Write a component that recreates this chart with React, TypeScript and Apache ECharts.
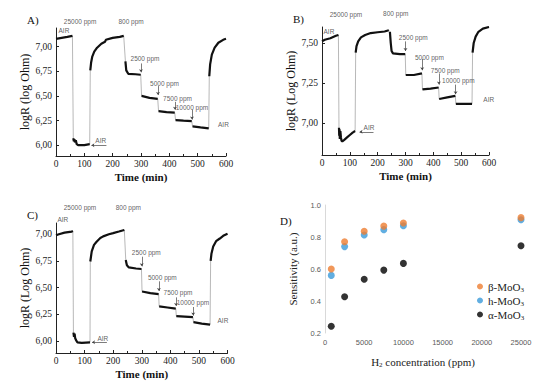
import React, { useEffect, useRef } from "react";
import * as echarts from "echarts";

// ---------- Panel A (logR vs time) ----------
const A_air1 = [[0, 7.08], [20, 7.09], [40, 7.1], [58, 7.11]];
const A_25000 = [[61, 6.07], [63, 6.04], [65, 6.06], [67, 6.03], [70, 6.05], [73, 6.01], [78, 6.0], [100, 6.0], [119, 6.01]];
const A_air2 = [[121, 6.76], [124, 6.84], [128, 6.9], [135, 6.95], [145, 6.99], [160, 7.03], [173, 7.05], [176, 7.07], [200, 7.09], [225, 7.1], [239, 7.11]];
const A_800 = [[245, 6.85], [248, 6.76], [255, 6.725], [280, 6.72], [299, 6.715]];
const A_2500 = [[302, 6.5], [330, 6.48], [359, 6.47]];
const A_5000 = [[362, 6.345], [390, 6.335], [419, 6.33]];
const A_7500 = [[422, 6.255], [450, 6.25], [479, 6.245]];
const A_10000 = [[482, 6.19], [510, 6.18], [539, 6.17]];
const A_air3 = [[541, 6.7], [544, 6.82], [550, 6.92], [560, 6.99], [573, 7.04], [590, 7.07], [600, 7.08]];

// ---------- Panel B ----------
const B_air1 = [[0, 7.51], [10, 7.52], [30, 7.53], [50, 7.545], [59, 7.55]];
const B_25000 = [[61, 6.97], [62, 6.92], [63, 6.96], [64, 6.9], [66, 6.95], [68, 6.91], [70, 6.89], [73, 6.885], [80, 6.895], [90, 6.91], [100, 6.925], [110, 6.94], [119, 6.95]];
const B_air2 = [[121, 7.44], [124, 7.48], [130, 7.51], [140, 7.535], [155, 7.55], [175, 7.562], [200, 7.567], [225, 7.572], [240, 7.58]];
const B_800 = [[244, 7.57], [247, 7.5], [250, 7.45], [255, 7.435], [280, 7.43], [299, 7.43]];
const B_2500 = [[301, 7.3], [330, 7.3], [359, 7.31]];
const B_5000 = [[361, 7.21], [390, 7.215], [419, 7.222]];
const B_7500 = [[421, 7.15], [450, 7.16], [479, 7.17]];
const B_10000 = [[481, 7.12], [510, 7.12], [539, 7.12]];
const B_air3 = [[541, 7.44], [545, 7.5], [552, 7.54], [562, 7.57], [578, 7.59], [600, 7.6]];

// ---------- Panel C ----------
const C_air1 = [[0, 6.99], [10, 7.0], [30, 7.015], [55, 7.025], [59, 7.03]];
const C_25000 = [[61, 6.08], [63, 6.04], [65, 6.07], [67, 6.03], [70, 6.01], [75, 5.99], [90, 5.985], [119, 5.99]];
const C_air2 = [[120, 6.745], [125, 6.84], [133, 6.9], [142, 6.93], [155, 6.965], [165, 6.98], [185, 7.0], [200, 7.01], [220, 7.025], [239, 7.04]];
const C_800 = [[244, 6.76], [248, 6.71], [255, 6.69], [280, 6.68], [299, 6.675]];
const C_2500 = [[301, 6.465], [330, 6.45], [359, 6.44]];
const C_5000 = [[361, 6.325], [390, 6.315], [419, 6.305]];
const C_7500 = [[421, 6.235], [450, 6.23], [479, 6.225]];
const C_10000 = [[481, 6.178], [510, 6.165], [539, 6.155]];
const C_air3 = [[541, 6.75], [544, 6.82], [550, 6.885], [560, 6.935], [573, 6.96], [585, 6.985], [600, 7.005]];

// ---------- Panel D (sensitivity) ----------
const concentrations = [800, 2500, 5000, 7500, 10000, 25000];
const betaMoO3 = [0.6, 0.77, 0.836, 0.868, 0.888, 0.921];
const hMoO3 = [0.56, 0.74, 0.813, 0.846, 0.87, 0.908];
const alphaMoO3 = [0.242, 0.427, 0.536, 0.593, 0.635, 0.745];

const yTicksAC = [6.0, 6.25, 6.5, 6.75, 7.0];
const yTicksB = [7.0, 7.25, 7.5];

// annotation texts (data coordinates)
const annA = [
  { text: "25000 ppm", t: 85, v: 7.26 }, { text: "800 ppm", t: 265, v: 7.26 },
  { text: "2500 ppm", t: 314, v: 6.885 }, { text: "5000 ppm", t: 383, v: 6.63 },
  { text: "7500 ppm", t: 429, v: 6.478 }, { text: "10000 ppm", t: 480, v: 6.387 },
  { text: "AIR", t: 28, v: 7.16 }, { text: "AIR", t: 158, v: 6.045 }, { text: "AIR", t: 591, v: 6.21 },
];
const arrA = [[60, 7.22, 7.13], [240, 7.22, 7.13], [300, 6.83, 6.74], [360, 6.6, 6.51], [420, 6.44, 6.36], [480, 6.36, 6.26]];
const airA = [[178, 125, 6.0], [605, 555, 6.16]];

const annB = [
  { text: "25000 ppm", t: 86, v: 7.677 }, { text: "800 ppm", t: 265, v: 7.683 },
  { text: "2500 ppm", t: 328, v: 7.533 }, { text: "5000 ppm", t: 386, v: 7.408 },
  { text: "7500 ppm", t: 443, v: 7.327 }, { text: "10000 ppm", t: 490, v: 7.264 },
  { text: "AIR", t: 25, v: 7.57 }, { text: "AIR", t: 169, v: 6.97 }, { text: "AIR", t: 599, v: 7.15 },
];
const arrB = [[60, 7.645, 7.56], [240, 7.645, 7.59], [300, 7.51, 7.45], [360, 7.4, 7.33], [420, 7.31, 7.24], [480, 7.24, 7.18]];
const airB = [[185, 135, 6.945], [611, 558, 7.12]];

const annC = [
  { text: "25000 ppm", t: 84, v: 7.254 }, { text: "800 ppm", t: 253, v: 7.254 },
  { text: "2500 ppm", t: 316, v: 6.826 }, { text: "5000 ppm", t: 372, v: 6.593 },
  { text: "7500 ppm", t: 427, v: 6.453 }, { text: "10000 ppm", t: 479, v: 6.36 },
  { text: "AIR", t: 24, v: 7.142 }, { text: "AIR", t: 164, v: 6.03 }, { text: "AIR", t: 584, v: 6.19 },
];
const arrC = [[60, 7.133, 7.05], [240, 7.133, 7.06], [300, 6.79, 6.7], [360, 6.56, 6.47], [420, 6.41, 6.33], [480, 6.32, 6.24]];
const airC = [[178, 126, 5.99], [601, 545, 6.146]];

const SERIF = '"Liberation Serif", "Times New Roman", serif';
const SANS = '"Liberation Sans", Arial, sans-serif';

function timePanel(idx: number, segs: number[][][], yMin: number, yMax: number, yTicks: number[], yName: string, ann: any[], arrows: number[][], airs: number[][]) {
  const series: any[] = [];
  series.push({
    type: "line", xAxisIndex: idx, yAxisIndex: idx, data: segs.flat(), showSymbol: false, silent: true,
    lineStyle: { color: "#9a9a9a", width: 0.7 }, z: 1,
    markLine: {
      silent: true, symbol: ["none", "arrow"], symbolSize: 3, label: { show: false },
      lineStyle: { color: "#444", width: 0.7, type: "solid" },
      data: [
        ...arrows.map((a) => [{ coord: [a[0], a[1]] }, { coord: [a[0], a[2]] }]),
        ...airs.map((a) => [{ coord: [a[0], a[2]] }, { coord: [a[1], a[2]] }]),
      ],
    },
  });
  segs.forEach((s) => series.push({
    type: "line", xAxisIndex: idx, yAxisIndex: idx, data: s, showSymbol: false, silent: true,
    lineStyle: { color: "#111", width: 2.2 }, z: 2,
  }));
  series.push({
    type: "scatter", xAxisIndex: idx, yAxisIndex: idx, clip: false, silent: true, symbolSize: 0.1,
    itemStyle: { color: "transparent" },
    label: { show: true, position: "inside", formatter: "{b}", fontFamily: SANS, fontSize: 6.5, color: "#333" },
    data: ann.map((a) => ({ name: a.text, value: [a.t, a.v] })), z: 3,
  });
  const xAxis = {
    type: "value", gridIndex: idx, min: 0, max: 600, interval: 100,
    name: "Time (min)", nameLocation: "middle", nameGap: 15,
    nameTextStyle: { fontFamily: SERIF, fontSize: 11, fontWeight: "bold", color: "#111" },
    axisLine: { lineStyle: { color: "#222", width: 1 } },
    axisTick: { inside: true, length: 3, lineStyle: { color: "#222" } },
    minorTick: { show: true, splitNumber: 2, length: 2, lineStyle: { color: "#222" } },
    axisLabel: { fontFamily: SERIF, fontSize: 9.5, color: "#222", margin: 3 },
    splitLine: { show: false },
  };
  const yAxis = {
    type: "value", gridIndex: idx, min: yMin, max: yMax,
    name: yName, nameLocation: "middle", nameGap: 25,
    nameTextStyle: { fontFamily: SERIF, fontSize: 12, color: "#111" },
    axisLine: { show: true, lineStyle: { color: "#222", width: 1 } },
    axisTick: { show: true, inside: true, length: 3, customValues: yTicks, lineStyle: { color: "#222" } },
    axisLabel: { fontFamily: SERIF, fontSize: 9.5, color: "#222", margin: 4, customValues: yTicks, formatter: (v: number) => v.toFixed(2).replace(".", ",") },
    splitLine: { show: false },
  };
  return { series, xAxis, yAxis };
}

export default function App() {
  const ref = useRef<HTMLDivElement>(null);
  useEffect(() => {
    if (!ref.current) return;
    const chart = echarts.init(ref.current, undefined, { renderer: "svg" });
    const pA = timePanel(0, [A_air1, A_25000, A_air2, A_800, A_2500, A_5000, A_7500, A_10000, A_air3], 5.89, 7.19, yTicksAC, "logR (log Ohm)", annA, arrA, airA);
    const pB = timePanel(1, [B_air1, B_25000, B_air2, B_800, B_2500, B_5000, B_7500, B_10000, B_air3], 6.8, 7.6, yTicksB, "logR (Log Ohm)", annB, arrB, airB);
    const pC = timePanel(2, [C_air1, C_25000, C_air2, C_800, C_2500, C_5000, C_7500, C_10000, C_air3], 5.89, 7.105, yTicksAC, "logR (Log Ohm)", annC, arrC, airC);

    const mk = (arr: number[]) => concentrations.map((c, i) => [c, arr[i]]);
    const dSeries = [
      { name: "α-MoO3", color: "#000000", data: mk(alphaMoO3) },
      { name: "h-MoO3", color: "#3a9ad9", data: mk(hMoO3) },
      { name: "β-MoO3", color: "#ed7d31", data: mk(betaMoO3) },
    ].map((s) => ({
      type: "scatter", name: s.name, xAxisIndex: 3, yAxisIndex: 3, data: s.data,
      symbolSize: 7, itemStyle: { color: s.color }, silent: true,
    }));

    const option: any = {
      animation: false,
      grid: [
        { left: 56, top: 28, width: 170, height: 128 },
        { left: 322, top: 27, width: 167, height: 128 },
        { left: 56, top: 223, width: 171.5, height: 130 },
        { left: 325, top: 205, width: 196, height: 128 },
      ],
      xAxis: [pA.xAxis, pB.xAxis, pC.xAxis, {
        type: "value", gridIndex: 3, min: 0, max: 25000, interval: 5000,
        name: "H{s|2} concentration (ppm)", nameLocation: "middle", nameGap: 22,
        nameTextStyle: { fontFamily: SERIF, fontSize: 11, color: "#222", rich: { s: { fontFamily: SERIF, fontSize: 7, padding: [6, 0, 0, 0] } } },
        axisLine: { show: false }, axisTick: { show: false },
        axisLabel: { fontFamily: SANS, fontSize: 7.5, color: "#595959", margin: 5, formatter: (v: number) => String(v) },
        splitLine: { show: false },
      }],
      yAxis: [pA.yAxis, pB.yAxis, pC.yAxis, {
        type: "value", gridIndex: 3, min: 0.2, max: 1.0, interval: 0.2,
        name: "Sensitivity (a.u.)", nameLocation: "middle", nameGap: 27,
        nameTextStyle: { fontFamily: SERIF, fontSize: 11, color: "#222" },
        axisLine: { show: true, lineStyle: { color: "#d9d9d9" } }, axisTick: { show: false },
        axisLabel: { fontFamily: SANS, fontSize: 7.5, color: "#595959", margin: 4, formatter: (v: number) => v.toFixed(1) },
        splitLine: { show: false },
      }],
      legend: {
        data: ["β-MoO3", "h-MoO3", "α-MoO3"], orient: "vertical", left: 477, top: 281,
        itemWidth: 6, itemHeight: 6, itemGap: 2, icon: "circle", padding: 0,
        formatter: (n: string) => "{t|" + n.slice(0, -1) + "}{s|3}",
        textStyle: { fontFamily: SERIF, fontSize: 11, color: "#222", rich: { t: { fontFamily: SERIF, fontSize: 11 }, s: { fontFamily: SERIF, fontSize: 7, padding: [6, 0, 0, 0] } } },
      },
      graphic: [
        { type: "text", left: 27, top: 14, style: { text: "A)", fontFamily: SERIF, fontSize: 11, fill: "#111" } },
        { type: "text", left: 293, top: 13, style: { text: "B)", fontFamily: SERIF, fontSize: 11, fill: "#111" } },
        { type: "text", left: 27, top: 209, style: { text: "C)", fontFamily: SERIF, fontSize: 11, fill: "#111" } },
        { type: "text", left: 280, top: 215, style: { text: "D)", fontFamily: SERIF, fontSize: 11, fill: "#111" } },
      ],
      series: [...pA.series, ...pB.series, ...pC.series, ...dSeries],
    };
    chart.setOption(option);
    return () => chart.dispose();
  }, []);
  return <div ref={ref} style={{ position: "fixed", left: 0, top: 0, width: 550, height: 387, background: "#fff" }} />;
}
